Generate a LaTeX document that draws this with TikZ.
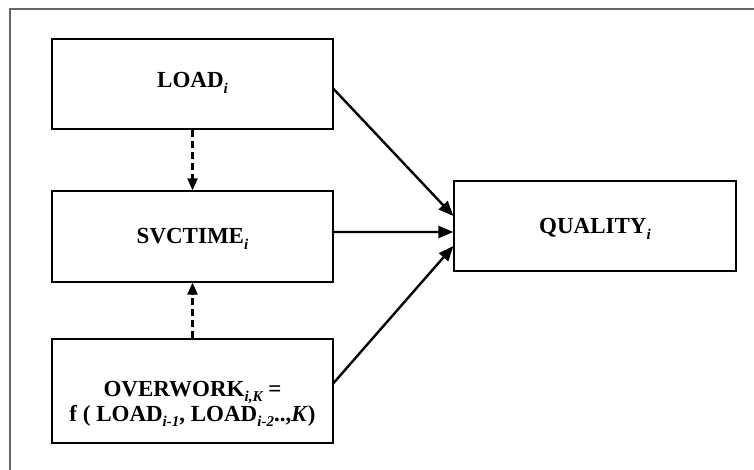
\documentclass[tikz,border=0pt]{standalone}
\usepackage{fontspec}
\setmainfont{Liberation Serif}
\usetikzlibrary{arrows.meta}
\newcommand{\sbx}[1]{\raisebox{-0.25em}{\fontsize{15bp}{15bp}\selectfont\bfseries\itshape #1}}
\begin{document}
\begin{tikzpicture}[x=1bp,y=-1bp,
  box/.style={draw=black,line width=1.2bp,minimum width=281bp,minimum height=90bp,inner sep=0pt},
  txt/.style={inner sep=0pt,font=\fontsize{23bp}{25bp}\selectfont\bfseries,align=center},
  solidarrow/.style={line width=2.4bp,-{Triangle[length=15bp,width=12bp]}},
  dasharrow/.style={line width=2.2bp,dash pattern=on 7bp off 4bp,-{Triangle[length=12bp,width=10bp]}},
  frameline/.style={draw=black!60,line width=1.5bp}]
\useasboundingbox (0,0) rectangle (754,470);
\coordinate (fa) at (10,470);
\coordinate (fb) at (10,9);
\coordinate (fc) at (754,9);
\draw[frameline] (fa) -- (fb) -- (fc);
\node[box] (load) at (192.5,84) {};
\node[txt] (loadtxt) at (192.5,83) {LOAD\sbx{i}};
\node[box,minimum height=91bp] (svc) at (192.5,236.5) {};
\node[txt] (svctxt) at (192.5,239) {SVCTIME\sbx{i}};
\node[box,minimum height=104bp] (over) at (192.5,391) {};
\node[txt] (overtxt) at (192.5,404) {OVERWORK\sbx{i,K} =\\ f ( LOAD\sbx{i-1}, LOAD\sbx{i-2}..,\textit{K})};
\node[box,minimum width=282bp] (qual) at (595,226) {};
\node[txt] (qualtxt) at (595,229) {QUALITY\sbx{i}};
\draw[solidarrow] ([yshift=-5bp]load.east) -- ([yshift=10bp]qual.west);
\draw[solidarrow] ([yshift=4.5bp]svc.east) -- ([yshift=-6bp]qual.west);
\draw[solidarrow] ([yshift=8bp]over.east) -- ([yshift=-20bp]qual.west);
\draw[dasharrow] (load.south) -- (svc.north);
\draw[dasharrow] (over.north) -- (svc.south);
\end{tikzpicture}
\end{document}
